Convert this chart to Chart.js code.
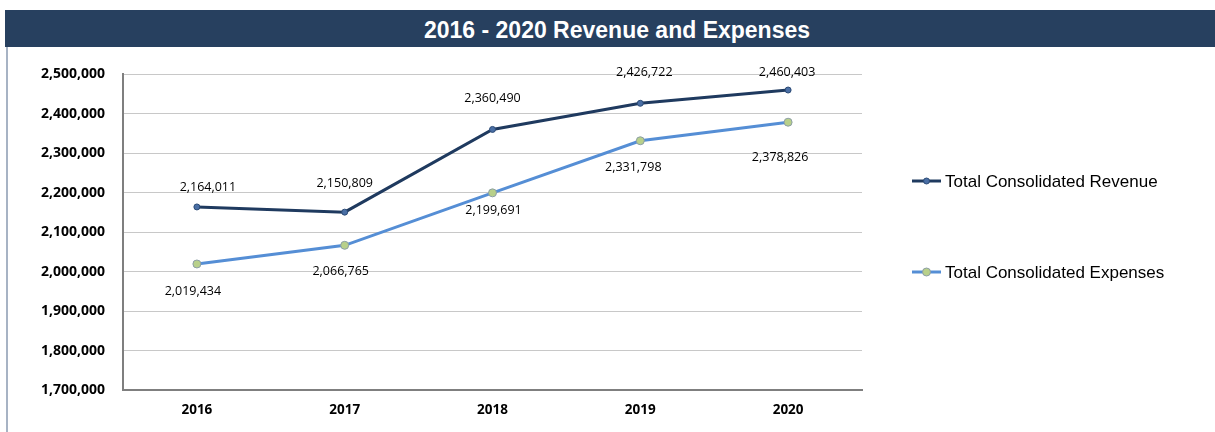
<!DOCTYPE html>
<html>
<head>
<meta charset="utf-8">
<script src="https://cdn.jsdelivr.net/npm/chart.js@4/dist/chart.umd.min.js"></script>
<style>
  html, body { margin: 0; padding: 0; background: #fff; }
  #wrap { position: relative; width: 1215px; height: 432px; overflow: hidden; }
  #title {
    position: absolute; left: 5px; top: 10px; width: 1196px; height: 37px;
    padding-left: 14px;
    background: #27405f; color: #fff;
    font: bold 23px "Liberation Sans", Arial, sans-serif;
    line-height: 40px; text-align: center;
  }
  #edge { position: absolute; left: 6px; top: 47px; width: 2px; height: 385px; background: #a7b3c4; }
  #box { position: absolute; left: 0; top: 48px; width: 1215px; height: 384px; }
</style>
</head>
<body>
<div id="wrap">
  <div id="title">2016 - 2020 Revenue and Expenses</div>
  <div id="edge"></div>
  <div id="box"><canvas id="chart" width="1215" height="384"></canvas></div>
</div>
<script>
const years = ['2016', '2017', '2018', '2019', '2020'];
const revenue = [2164011, 2150809, 2360490, 2426722, 2460403];
const expenses = [2019434, 2066765, 2199691, 2331798, 2378826];
const seriesNames = ['Total Consolidated Revenue', 'Total Consolidated Expenses'];

// label nudges (px) relative to each point, per dataset
const labelShift = [
  [[11, -20], [0, -29], [0, -31], [4, -31], [-1, -18]],
  [[-4, 27], [-4, 26], [1, 18], [-7, 27], [-8, 35]]
];

const fmt = v => v.toLocaleString('en-US');

// value labels next to each point
const pointLabels = {
  id: 'pointLabels',
  afterDatasetsDraw(chart) {
    const ctx = chart.ctx;
    ctx.save();
    ctx.font = '12.5px "Open Sans", sans-serif';
    ctx.fillStyle = '#000';
    ctx.textAlign = 'center';
    ctx.textBaseline = 'middle';
    chart.data.datasets.forEach((ds, i) => {
      chart.getDatasetMeta(i).data.forEach((pt, j) => {
        const [dx, dy] = labelShift[i][j];
        ctx.fillText(fmt(ds.data[j]), pt.x + dx, pt.y + dy);
      });
    });
    ctx.restore();
  }
};

// legend on the right, one entry per row
const sideLegend = {
  id: 'sideLegend',
  afterDraw(chart) {
    const ctx = chart.ctx;
    const rows = [133, 224];
    ctx.save();
    ctx.font = '17px "Liberation Sans", Arial, sans-serif';
    ctx.textBaseline = 'middle';
    chart.data.datasets.forEach((ds, i) => {
      const y = rows[i];
      ctx.strokeStyle = ds.borderColor;
      ctx.lineWidth = 3;
      ctx.beginPath();
      ctx.moveTo(912, y);
      ctx.lineTo(941, y);
      ctx.stroke();
      ctx.beginPath();
      ctx.arc(926.5, y, ds.pointRadius, 0, Math.PI * 2);
      ctx.fillStyle = ds.pointBackgroundColor;
      ctx.fill();
      ctx.lineWidth = 1;
      ctx.strokeStyle = ds.pointBorderColor;
      ctx.stroke();
      ctx.fillStyle = '#000';
      ctx.fillText(ds.label, 945, y + 1);
    });
    ctx.restore();
  }
};

new Chart(document.getElementById('chart'), {
  type: 'line',
  data: {
    labels: years,
    datasets: [
      {
        label: seriesNames[0],
        data: revenue,
        borderColor: '#1f3a5f',
        borderWidth: 3,
        pointRadius: 3,
        pointBackgroundColor: '#4a6fa5',
        pointBorderColor: '#2b4a75',
        pointBorderWidth: 1,
        tension: 0
      },
      {
        label: seriesNames[1],
        data: expenses,
        borderColor: '#558ed5',
        borderWidth: 3,
        pointRadius: 4,
        pointBackgroundColor: '#b8d08a',
        pointBorderColor: '#8c9ea6',
        pointBorderWidth: 1,
        tension: 0
      }
    ]
  },
  options: {
    responsive: false,
    animation: false,
    layout: { padding: { top: 26, right: 353, bottom: 0, left: 0 } },
    plugins: {
      legend: { display: false },
      tooltip: { enabled: false }
    },
    scales: {
      x: {
        offset: true,
        grid: { display: false, drawTicks: false },
        border: { display: true, color: '#7f7f7f', width: 2 },
        ticks: {
          color: '#000',
          padding: 12,
          font: { family: '"Open Sans", sans-serif', size: 13.5, weight: 'bold' }
        },
        afterFit(scale) { scale.height = 42; }
      },
      y: {
        min: 1700000,
        max: 2500000,
        grid: { color: '#c8c8c8', lineWidth: 1, drawTicks: false },
        border: { display: true, color: '#7f7f7f', width: 2 },
        ticks: {
          stepSize: 100000,
          color: '#000',
          padding: 18,
          font: { family: '"Open Sans", sans-serif', size: 14, weight: 'bold' },
          callback: v => fmt(v)
        },
        afterFit(scale) { scale.width = 123; }
      }
    }
  },
  plugins: [pointLabels, sideLegend]
});
</script>
</body>
</html>
